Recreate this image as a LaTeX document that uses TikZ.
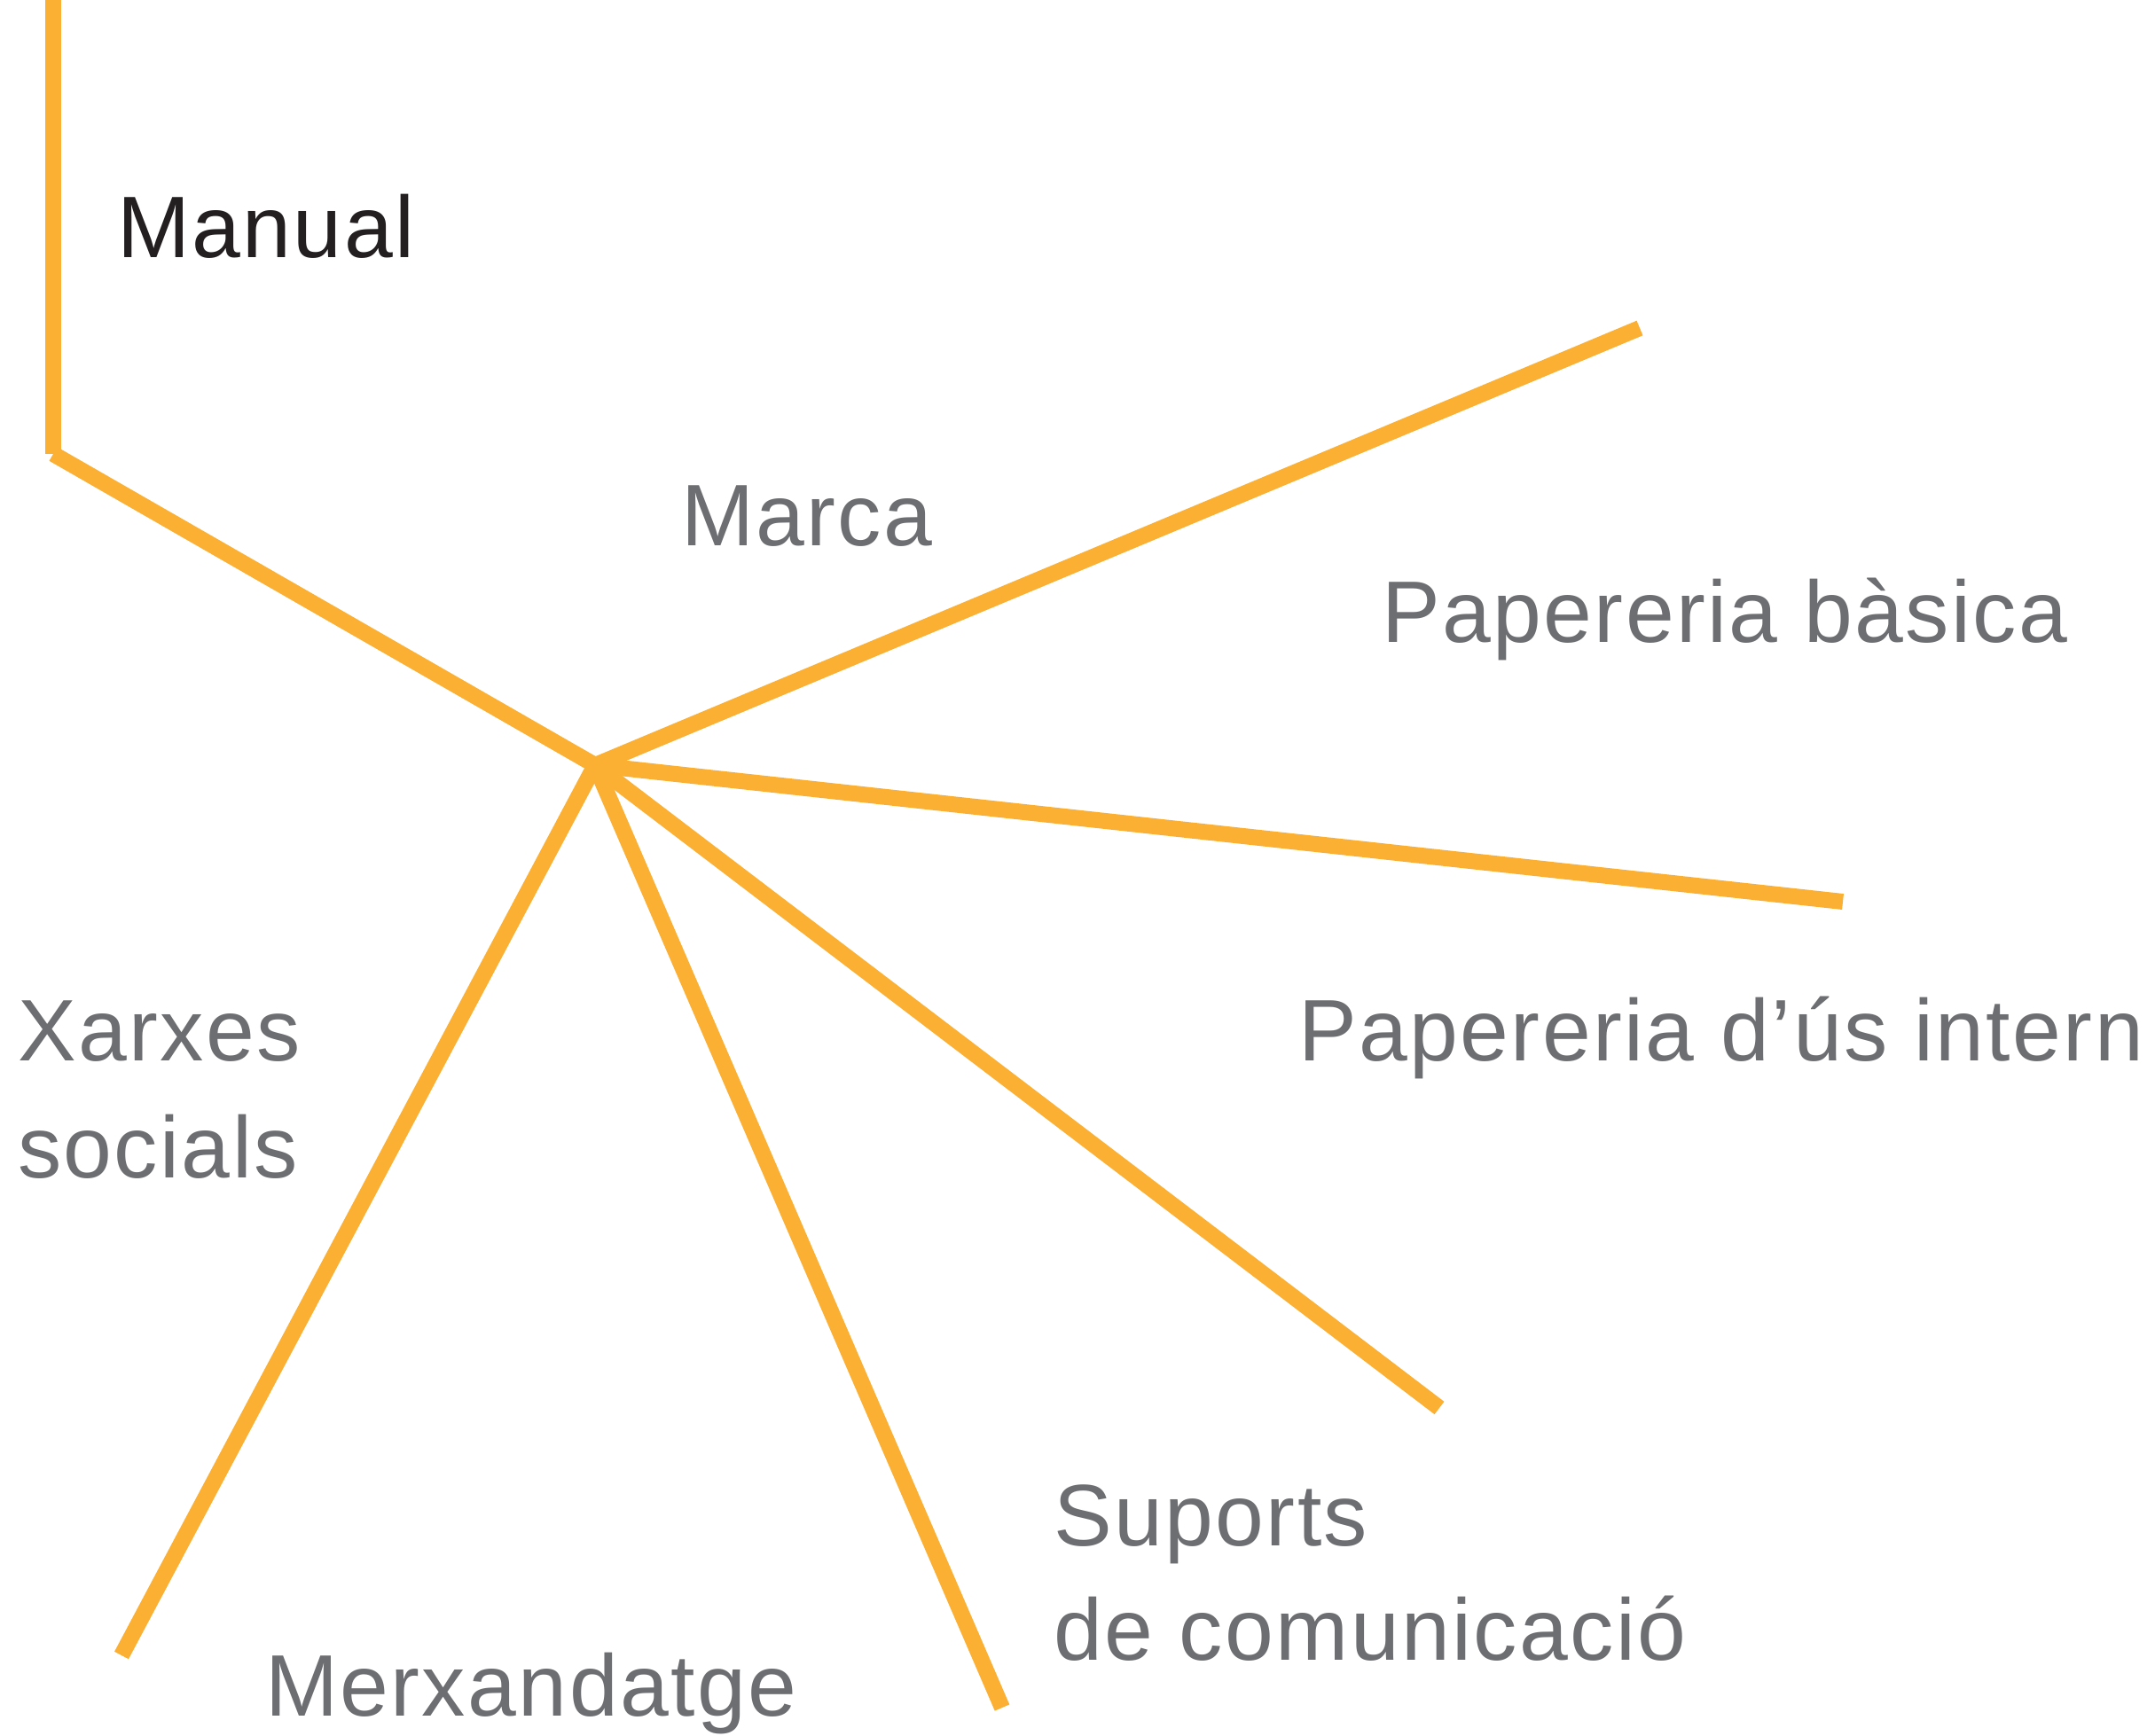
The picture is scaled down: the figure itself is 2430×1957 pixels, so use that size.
\documentclass[tikz,border=0pt]{standalone}
\usepackage{fontspec}
\setmainfont{Liberation Sans}[LetterSpace=2.5]
\definecolor{orangeL}{HTML}{FBB034}
\definecolor{grayT}{HTML}{6D6E71}
\definecolor{blackT}{HTML}{231F20}
\begin{document}
\begin{tikzpicture}[x=1pt,y=-1pt,
  branch/.style={draw=orangeL,line width=18pt,line cap=butt},
  lbl/.style={anchor=base west,inner sep=0pt,outer sep=0pt,text=grayT,font=\fontsize{98.5}{130}\selectfont,align=left},
  lblmain/.style={lbl,text=blackT}]
\useasboundingbox (0,0) rectangle (2430,1957);
% coordinates
\coordinate (top) at (60,-15);
\coordinate (corner) at (60,512);
\coordinate (hub) at (671,863);
\coordinate (eBasica) at (1849,370);
\coordinate (eIntern) at (2078,1017);
\coordinate (eSuports) at (1623,1588);
\coordinate (eMerx) at (1130,1926);
\coordinate (eXarxes) at (137,1867);
% lines
\draw[branch] (top) -- (corner);
\draw[branch] (corner) -- (hub);
\draw[branch] (hub) -- (eBasica);
\draw[branch] (hub) -- (eIntern);
\draw[branch] (hub) -- (eSuports);
\draw[branch] (hub) -- (eMerx);
\draw[branch] (hub) -- (eXarxes);
% labels
\node[lblmain] (manual) at (132,290) {Manual};
\node[lbl] (marca) at (768,615) {Marca};
\node[lbl] (basica) at (1558,724) {Papereria bàsica};
\node[lbl] (intern) at (1464,1196) {Papereria d’ús intern};
\node[lbl] (xarxes) at (20,1196) {Xarxes};
\node[lbl] (socials) at (20,1328) {socials};
\node[lbl] (suports) at (1188,1743) {Suports};
\node[lbl] (comunic) at (1188,1872) {de comunicació};
\node[lbl] (merx) at (299,1935) {Merxandatge};
\end{tikzpicture}
\end{document}
